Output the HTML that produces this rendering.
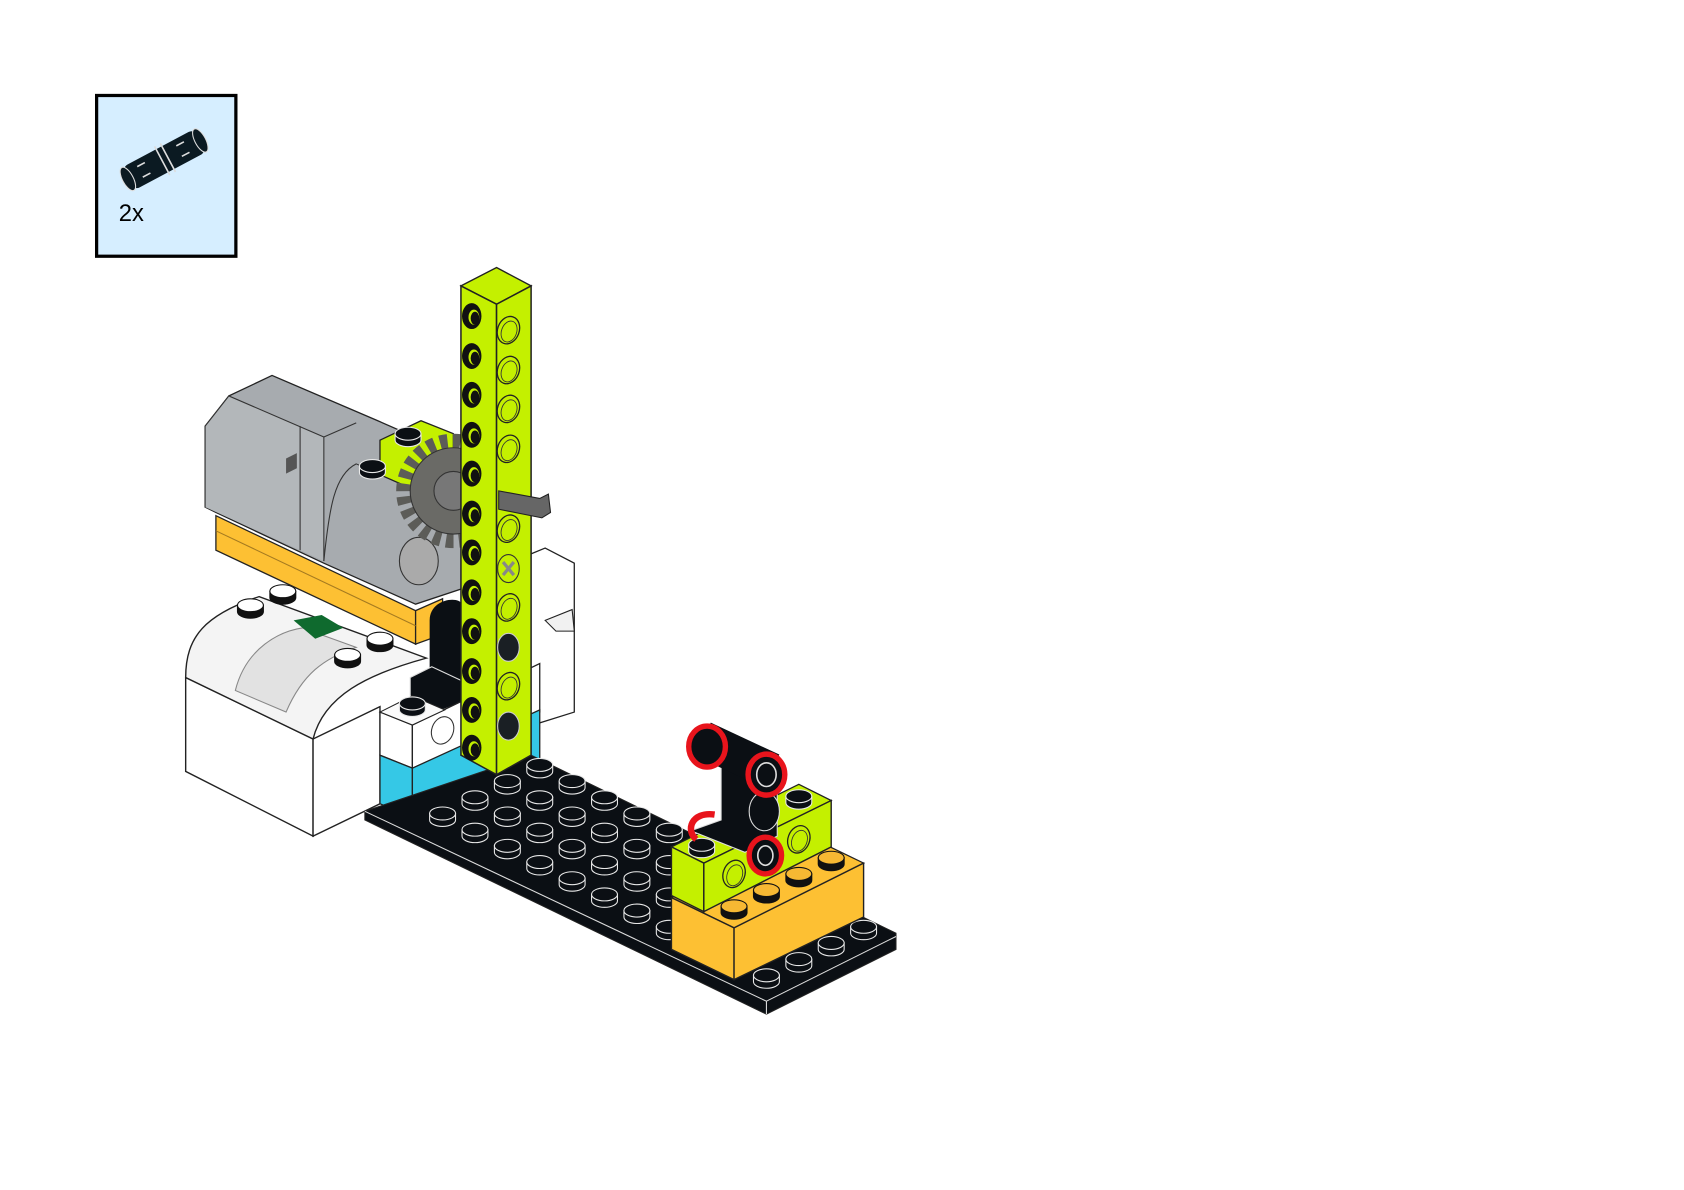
<!DOCTYPE html>
<html><head><meta charset="utf-8"><style>
html,body{margin:0;padding:0;background:#fff}
svg{display:block}
</style></head><body>
<svg width="1684" height="1190" viewBox="0 0 1560 1103" preserveAspectRatio="none" xmlns="http://www.w3.org/2000/svg">
<defs>
<g id="bs"><path d="M-12,0 L-12,6 A12,6 0 0 0 12,6 L12,0 Z" fill="#0b0f14" stroke="#e8e8e8" stroke-width="1"/><ellipse cx="0" cy="0" rx="12" ry="6" fill="#0b0f14" stroke="#e8e8e8" stroke-width="1"/></g>
<g id="os"><path d="M-12,0 L-12,6 A12,6 0 0 0 12,6 L12,0 Z" fill="#111" stroke="#111" stroke-width="1"/><ellipse cx="0" cy="0" rx="12" ry="6" fill="#f6b833" stroke="#111" stroke-width="1"/></g>
<g id="ws"><path d="M-12,0 L-12,6 A12,6 0 0 0 12,6 L12,0 Z" fill="#111" stroke="#111"/><ellipse cx="0" cy="0" rx="12" ry="6" fill="#fff" stroke="#111"/></g>
<g id="hb"><ellipse cx="0" cy="0" rx="9" ry="12" fill="#111"/><ellipse cx="2" cy="1" rx="5" ry="7" fill="#c4f000"/><ellipse cx="3" cy="2" rx="4" ry="6" fill="#111"/></g>
<g id="hl"><ellipse cx="0" cy="0" rx="10" ry="13" fill="#c4f000" stroke="#222" stroke-width="1.2" transform="rotate(20)"/><ellipse cx="1" cy="1" rx="7" ry="10" fill="none" stroke="#333" stroke-width="0.8" transform="rotate(20)"/></g>
</defs>

<!-- parts box -->
<rect x="89.5" y="88.5" width="129" height="149" fill="#d6eeff" stroke="#000" stroke-width="3"/>
<g transform="translate(152,148) rotate(-28)">
<rect x="-38" y="-12" width="76" height="24" rx="6" fill="#0b1a22"/>
<ellipse cx="-38" cy="0" rx="5" ry="12" fill="#0b1a22" stroke="#ddd"/>
<ellipse cx="38" cy="0" rx="5" ry="12" fill="#0b1a22" stroke="#ddd"/>
<path d="M-2,-15 L-2,15 M4,-15 L4,15" stroke="#ddd" stroke-width="1.5"/>
<path d="M-25,-6 l8,0 M-25,5 l8,0 M16,-6 l8,0 M16,5 l8,0" stroke="#ddd" stroke-width="1.5"/>
</g>
<text x="110" y="205" font-family="Liberation Sans, sans-serif" font-size="22" fill="#000">2x</text>

<!-- white piece behind beam right -->
<polygon points="488,515 505,508 532,522 532,660 500,670 488,660" fill="#fff" stroke="#222" stroke-width="1.2"/>
<path d="M505,575 L530,565 L532,585 L515,585 Z" fill="#f1f1f1" stroke="#222"/>

<!-- hub white -->
<polygon points="172,628 290,685 290,775 172,715" fill="#fff" stroke="#222" stroke-width="1.3"/>
<polygon points="290,685 352,655 352,745 290,775" fill="#fff" stroke="#222" stroke-width="1.3"/>
<path d="M172,628 C172,590 190,570 240,553 L395,610 C340,625 300,645 290,685 Z" fill="#f4f4f4" stroke="#222" stroke-width="1.3"/>
<path d="M218,640 C228,600 260,585 280,582 L330,600 C300,610 280,625 265,660 Z" fill="#e2e2e2" stroke="#888"/>
<polygon points="272,575 298,570 318,582 292,592" fill="#0f6a2e"/>
<use href="#ws" x="232" y="561"/><use href="#ws" x="262" y="548"/>
<use href="#ws" x="322" y="607"/><use href="#ws" x="352" y="592"/>

<!-- orange under motor -->
<polygon points="200,478 385,566 385,597 200,510" fill="#fdc033" stroke="#222" stroke-width="1.2"/>
<polygon points="385,566 410,555 410,588 385,597" fill="#fdc033" stroke="#222" stroke-width="1.2"/>
<path d="M200,492 L385,580" stroke="#a57a20" stroke-width="1"/>

<!-- motor -->
<polygon points="190,395 212,367 252,348 350,390 430,425 430,545 385,560 300,522 200,475 190,470" fill="#a7abaf" stroke="#222" stroke-width="1.2"/>
<path d="M190,470 L190,395 L212,367 L300,405 L300,520" fill="#b3b7ba" stroke="#333"/>
<path d="M278,395 L278,510 M300,405 L330,392" stroke="#333"/>
<path d="M300,520 C305,470 310,440 330,430 L430,470" fill="none" stroke="#333"/>
<path d="M265,425 l10,-5 l0,14 l-10,5 Z" fill="#555"/>
<ellipse cx="388" cy="520" rx="18" ry="22" fill="#aaa" stroke="#333"/>

<!-- green block by gear -->
<polygon points="352,408 390,390 420,402 420,470 352,440" fill="#c4f000" stroke="#222" stroke-width="1.2"/>
<use href="#bs" x="378" y="402"/>
<use href="#bs" x="345" y="432"/>

<!-- gear -->
<circle cx="420" cy="455" r="46" fill="none" stroke="#5c5c58" stroke-width="14" stroke-dasharray="7 5"/>
<circle cx="420" cy="455" r="40" fill="#6a6a66" stroke="#333"/>
<circle cx="420" cy="455" r="18" fill="#777" stroke="#333"/>

<!-- black piece behind -->
<path d="M398,650 L398,575 C398,555 425,552 428,560 L428,650 Z" fill="#0b0f14"/>
<polygon points="380,628 400,618 430,632 430,650 405,660 380,645" fill="#0b0f14" stroke="#ddd" stroke-width="1"/>

<!-- white brick -->
<polygon points="352,660 382,672 382,712 352,700" fill="#fff" stroke="#222" stroke-width="1.2"/>
<polygon points="382,672 500,615 500,660 382,712" fill="#fff" stroke="#222" stroke-width="1.2"/>
<polygon points="352,660 382,645 412,658 382,672" fill="#fafafa" stroke="#222"/>
<use href="#bs" x="382" y="652"/>
<ellipse cx="410" cy="677" rx="10" ry="13" fill="#fff" stroke="#333" transform="rotate(20 410 677)"/>
<!-- cyan brick -->
<polygon points="352,700 382,712 382,758 352,745" fill="#35c8e6" stroke="#222" stroke-width="1.2"/>
<polygon points="382,712 500,658 500,705 382,758" fill="#35c8e6" stroke="#222" stroke-width="1.2"/>

<!-- baseplate -->
<polygon points="338,752 492,700 830,865 830,880 710,940 338,760" fill="#0b0f14" stroke="#222" stroke-width="1"/>
<path d="M338,752 L710,928 L830,868" fill="none" stroke="#ddd" stroke-width="1"/>
<path d="M710,928 L710,940" stroke="#ddd"/>
<g id="studs">
<use href="#bs" x="410" y="754"/><use href="#bs" x="440" y="739"/><use href="#bs" x="470" y="724"/><use href="#bs" x="500" y="709"/>
<use href="#bs" x="440" y="769"/><use href="#bs" x="470" y="754"/><use href="#bs" x="500" y="739"/><use href="#bs" x="530" y="724"/>
<use href="#bs" x="470" y="784"/><use href="#bs" x="500" y="769"/><use href="#bs" x="530" y="754"/><use href="#bs" x="560" y="739"/>
<use href="#bs" x="500" y="799"/><use href="#bs" x="530" y="784"/><use href="#bs" x="560" y="769"/><use href="#bs" x="590" y="754"/>
<use href="#bs" x="530" y="814"/><use href="#bs" x="560" y="799"/><use href="#bs" x="590" y="784"/><use href="#bs" x="620" y="769"/>
<use href="#bs" x="560" y="829"/><use href="#bs" x="590" y="814"/><use href="#bs" x="620" y="799"/>
<use href="#bs" x="590" y="844"/><use href="#bs" x="620" y="829"/>
<use href="#bs" x="620" y="859"/>
<use href="#bs" x="710" y="904"/><use href="#bs" x="740" y="889"/><use href="#bs" x="770" y="874"/><use href="#bs" x="800" y="859"/>
</g>

<!-- orange brick -->
<polygon points="622,832 742,772 800,800 680,860" fill="#fdc033" stroke="#222" stroke-width="1.2"/>
<polygon points="622,832 680,860 680,908 622,880" fill="#fdc033" stroke="#222" stroke-width="1.3"/>
<polygon points="680,860 800,800 800,850 680,908" fill="#fdc033" stroke="#222" stroke-width="1.3"/>
<use href="#os" x="680" y="840"/><use href="#os" x="710" y="825"/><use href="#os" x="740" y="810"/><use href="#os" x="770" y="795"/>

<!-- green brick -->
<polygon points="622,785 740,727 770,742 652,800" fill="#c4f000" stroke="#222" stroke-width="1.2"/>
<polygon points="622,785 652,800 652,845 622,830" fill="#c4f000" stroke="#222" stroke-width="1.3"/>
<polygon points="652,800 770,742 770,785 652,845" fill="#c4f000" stroke="#222" stroke-width="1.3"/>
<use href="#bs" x="650" y="783"/><use href="#bs" x="740" y="738"/>
<use href="#hl" x="680" y="810"/><use href="#hl" x="740" y="778"/>

<!-- black connector -->
<polygon points="668,700 700,690 720,700 720,775 690,790 660,778 640,770 668,760" fill="#0b0f14" stroke="#ddd" stroke-width="1"/>
<ellipse cx="708" cy="752" rx="14" ry="18" fill="#0b0f14" stroke="#ddd"/>
<g transform="translate(683,700) rotate(25)">
<rect x="-35" y="-17" width="70" height="34" fill="#0b0f14"/>
</g>
<ellipse cx="655" cy="692" rx="17" ry="19" fill="#0b0f14" stroke="#e8141c" stroke-width="5"/>
<ellipse cx="710" cy="718" rx="17" ry="19" fill="#0b0f14" stroke="#e8141c" stroke-width="5"/>
<ellipse cx="710" cy="718" rx="9" ry="11" fill="none" stroke="#ddd" stroke-width="1.5"/>
<path d="M662,755 C640,752 635,770 645,778" fill="none" stroke="#e8141c" stroke-width="6"/>
<ellipse cx="709" cy="793" rx="15" ry="17" fill="#0b0f14" stroke="#e8141c" stroke-width="5"/>
<ellipse cx="709" cy="793" rx="7" ry="9" fill="none" stroke="#ddd" stroke-width="1.5"/>

<!-- beam -->
<polygon points="427,265 460,248 492,265 460,282" fill="#c4f000" stroke="#222" stroke-width="1.3"/>
<polygon points="427,265 460,282 460,718 427,700" fill="#c4f000" stroke="#222" stroke-width="1.4"/>
<polygon points="460,282 492,265 492,700 460,718" fill="#c4f000" stroke="#222" stroke-width="1.4"/>
<use href="#hb" x="437" y="293"/><use href="#hb" x="437" y="330"/><use href="#hb" x="437" y="366"/><use href="#hb" x="437" y="403"/>
<use href="#hb" x="437" y="439"/><use href="#hb" x="437" y="476"/><use href="#hb" x="437" y="512"/><use href="#hb" x="437" y="549"/>
<use href="#hb" x="437" y="585"/><use href="#hb" x="437" y="622"/><use href="#hb" x="437" y="658"/><use href="#hb" x="437" y="693"/>
<use href="#hl" x="471" y="306"/><use href="#hl" x="471" y="343"/><use href="#hl" x="471" y="379"/><use href="#hl" x="471" y="416"/>
<use href="#hl" x="471" y="490"/><use href="#hl" x="471" y="563"/><use href="#hl" x="471" y="636"/>
<g><ellipse cx="471" cy="527" rx="10" ry="13" fill="#c4f000" stroke="#333"/><path d="M466,521 l10,12 M476,521 l-10,12" stroke="#888" stroke-width="3"/></g>
<g><ellipse cx="471" cy="600" rx="10" ry="13" fill="#1a1f24" stroke="#ccc"/></g>
<g><ellipse cx="471" cy="673" rx="10" ry="13" fill="#1a1f24" stroke="#ccc"/></g>
<!-- axle -->
<polygon points="462,455 500,462 508,458 510,475 502,480 462,472" fill="#666" stroke="#222"/>
</svg>
</body></html>
